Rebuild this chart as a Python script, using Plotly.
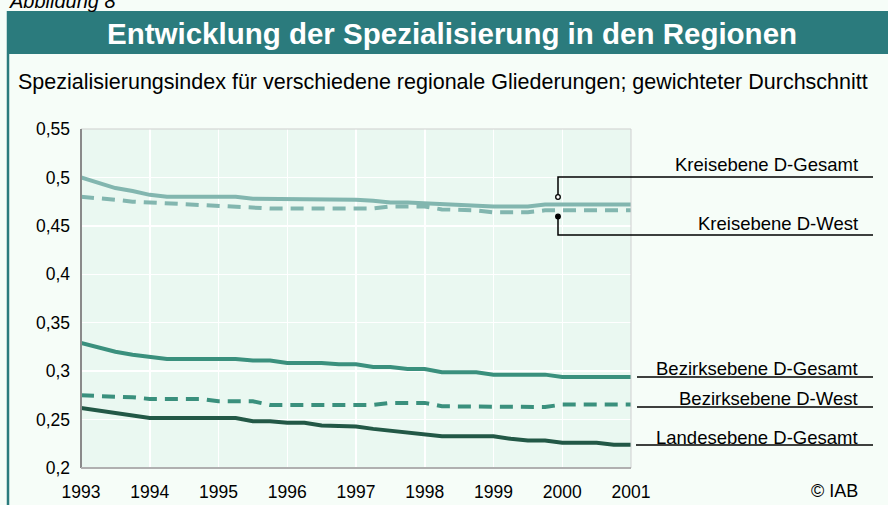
import plotly.graph_objects as go

# ---------------- data ----------------
years = [1993.00, 1993.25, 1993.50, 1993.75, 1994.00, 1994.25, 1994.50, 1994.75,
         1995.00, 1995.25, 1995.50, 1995.75, 1996.00, 1996.25, 1996.50, 1996.75,
         1997.00, 1997.25, 1997.50, 1997.75, 1998.00, 1998.25, 1998.50, 1998.75,
         1999.00, 1999.25, 1999.50, 1999.75, 2000.00, 2000.25, 2000.50, 2000.75,
         2001.00]

kreis_gesamt = [0.500, 0.495, 0.489, 0.486, 0.482, 0.480, 0.480, 0.480,
                0.480, 0.480, 0.478, 0.478, 0.478, 0.478, 0.477, 0.477,
                0.477, 0.476, 0.474, 0.474, 0.473, 0.472, 0.472, 0.471,
                0.470, 0.470, 0.470, 0.472, 0.472, 0.472, 0.472, 0.472,
                0.472]

kreis_west = [0.480, 0.479, 0.477, 0.475, 0.474, 0.474, 0.472, 0.471,
              0.470, 0.470, 0.468, 0.468, 0.468, 0.468, 0.468, 0.468,
              0.468, 0.468, 0.470, 0.470, 0.470, 0.467, 0.467, 0.466,
              0.464, 0.464, 0.464, 0.466, 0.466, 0.466, 0.466, 0.466,
              0.466]

bezirk_gesamt = [0.329, 0.3245, 0.320, 0.317, 0.3146, 0.3126, 0.3126, 0.3126,
                 0.3126, 0.3126, 0.311, 0.311, 0.3085, 0.3085, 0.3085, 0.307,
                 0.307, 0.3043, 0.3043, 0.3023, 0.3023, 0.2988, 0.2988, 0.2988,
                 0.2964, 0.2964, 0.2964, 0.2964, 0.294, 0.294, 0.294, 0.294,
                 0.294]

bezirk_west = [0.275, 0.2745, 0.2738, 0.273, 0.2713, 0.2713, 0.2713, 0.2713,
               0.2689, 0.2689, 0.2689, 0.2651, 0.2651, 0.2651, 0.2651, 0.2651,
               0.2651, 0.2651, 0.2672, 0.2672, 0.2672, 0.2637, 0.2637, 0.2637,
               0.263, 0.263, 0.263, 0.263, 0.2655, 0.2655, 0.2655, 0.2655,
               0.2655]

landes_gesamt = [0.262, 0.2596, 0.257, 0.255, 0.2517, 0.2517, 0.2517, 0.2517,
                 0.2517, 0.2517, 0.2483, 0.2483, 0.2466, 0.2466, 0.2438, 0.2438,
                 0.2428, 0.2404, 0.2386, 0.237, 0.2345, 0.2328, 0.2328, 0.2328,
                 0.2328, 0.2301, 0.2284, 0.2284, 0.226, 0.226, 0.226, 0.224,
                 0.224]

x_tickvals = [1993, 1994, 1995, 1996, 1997, 1998, 1999, 2000, 2001]
x_ticktext = ["1993", "1994", "1995", "1996", "1997", "1998", "1999", "2000", "2001"]
y_tickvals = [0.2, 0.25, 0.3, 0.35, 0.4, 0.45, 0.5, 0.55]
y_ticktext = ["0,2", "0,25", "0,3", "0,35", "0,4", "0,45", "0,5", "0,55"]

series_names = ["Kreisebene D-Gesamt", "Kreisebene D-West", "Bezirksebene D-Gesamt",
                "Bezirksebene D-West", "Landesebene D-Gesamt"]

title_text = "Entwicklung der Spezialisierung in den Regionen"
subtitle_text = "Spezialisierungsindex für verschiedene regionale Gliederungen; gewichteter Durchschnitt"

# ---------------- style ----------------
FONT = "Liberation Sans, Arial, sans-serif"
C_LIGHT = "#82b6af"
C_MID = "#3a907d"
C_DARK = "#225846"
TEAL = "#2b7b7d"
BG = "#f6fdf8"
PLOT_BG = "#eaf8f1"

W, H = 888, 505
L, R, T, B = 81, 631, 129, 468


def px(x):
    return (x - L) / (R - L)


def py(y):
    return (B - y) / (B - T)


fig = go.Figure()

styles = [
    (kreis_gesamt, C_LIGHT, "solid"),
    (kreis_west, C_LIGHT, "13px,8px"),
    (bezirk_gesamt, C_MID, "solid"),
    (bezirk_west, C_MID, "13px,8px"),
    (landes_gesamt, C_DARK, "solid"),
]
for name, (vals, col, dash) in zip(series_names, styles):
    fig.add_trace(go.Scatter(x=years, y=vals, mode="lines", name=name,
                             line=dict(color=col, width=4, dash=dash),
                             hoverinfo="skip"))

shapes = []
# title bar
shapes.append(dict(type="rect", xref="paper", yref="paper", x0=px(7), x1=px(889),
                   y0=py(54), y1=py(11), fillcolor=TEAL, line=dict(width=0), layer="below"))
# left border
shapes.append(dict(type="line", xref="paper", yref="paper", x0=px(8), x1=px(8),
                   y0=py(11), y1=py(506), line=dict(color=TEAL, width=2.5)))
# plot frame: top/right light gray, left/bottom darker gray
shapes.append(dict(type="line", xref="paper", yref="paper", x0=0, x1=1, y0=1, y1=1,
                   line=dict(color="#cfcfcf", width=1)))
shapes.append(dict(type="line", xref="paper", yref="paper", x0=1, x1=1, y0=0, y1=1,
                   line=dict(color="#cfcfcf", width=1)))
shapes.append(dict(type="line", xref="paper", yref="paper", x0=0, x1=0, y0=0, y1=1,
                   line=dict(color="#8a8a8a", width=2)))
shapes.append(dict(type="line", xref="paper", yref="paper", x0=0, x1=1, y0=0, y1=0,
                   line=dict(color="#b0b0b0", width=2)))


def path(points):
    return "M " + " L ".join(f"{px(a):.5f},{py(b):.5f}" for a, b in points)


# leader lines
shapes.append(dict(type="path", xref="paper", yref="paper",
                   path=path([(558, 195), (558, 177), (873, 177)]),
                   line=dict(color="black", width=1.5)))
shapes.append(dict(type="path", xref="paper", yref="paper",
                   path=path([(558, 218), (558, 235), (873, 235)]),
                   line=dict(color="black", width=1.5)))
for yy, x0 in [(377, 637), (407, 637), (445, 636)]:
    shapes.append(dict(type="line", xref="paper", yref="paper", x0=px(x0), x1=px(873),
                       y0=py(yy), y1=py(yy), line=dict(color="black", width=1.5)))
# small circles
r = 2.3
shapes.append(dict(type="circle", xref="paper", yref="paper",
                   x0=px(558 - r), x1=px(558 + r), y0=py(197 + r), y1=py(197 - r),
                   fillcolor="white", line=dict(color="black", width=1.3)))
shapes.append(dict(type="circle", xref="paper", yref="paper",
                   x0=px(558 - r), x1=px(558 + r), y0=py(216.5 + r), y1=py(216.5 - r),
                   fillcolor="black", line=dict(color="black", width=1.3)))

annotations = []
annotations.append(dict(text="<i>Abbildung 8</i>", xref="paper", yref="paper", x=px(7), y=py(14),
                         xanchor="left", yanchor="bottom", showarrow=False,
                         font=dict(family=FONT, size=20, color="black")))
annotations.append(dict(text="<b>" + title_text + "</b>", xref="paper", yref="paper",
                         x=px(452), y=py(33), xanchor="center", yanchor="middle",
                         showarrow=False, font=dict(family=FONT, size=29.5, color="white")))
annotations.append(dict(text=subtitle_text, xref="paper", yref="paper",
                         x=px(16), y=py(82), xanchor="left", yanchor="middle",
                         showarrow=False, font=dict(family=FONT, size=21.5, color="black")))
label_y = [164, 223, 368, 398, 437]
for name, yy in zip(series_names, label_y):
    annotations.append(dict(text=name, xref="paper", yref="paper", x=px(860), y=py(yy),
                             xanchor="right", yanchor="middle", showarrow=False,
                             font=dict(family=FONT, size=18.5, color="black")))
annotations.append(dict(text="© IAB", xref="paper", yref="paper", x=px(860), y=py(491),
                         xanchor="right", yanchor="middle", showarrow=False,
                         font=dict(family=FONT, size=18, color="black")))

fig.update_layout(
    width=W, height=H,
    margin=dict(l=L, r=W - R, t=T, b=H - B, pad=0),
    paper_bgcolor=BG, plot_bgcolor=PLOT_BG,
    showlegend=False,
    font=dict(family=FONT, size=17, color="black"),
    shapes=shapes, annotations=annotations,
    xaxis=dict(range=[1993, 2001], tickvals=x_tickvals, ticktext=x_ticktext,
               showgrid=True, gridcolor="white", gridwidth=1.5, zeroline=False,
               showline=False, ticks="", ticklabelstandoff=11, automargin=False,
               tickfont=dict(family=FONT, size=17.5, color="black")),
    yaxis=dict(range=[0.2, 0.55], tickvals=y_tickvals, ticktext=y_ticktext,
               showgrid=True, gridcolor="white", gridwidth=1.5, zeroline=False,
               showline=False, ticks="", ticklabelstandoff=10, automargin=False,
               tickfont=dict(family=FONT, size=17.5, color="black")),
)

fig.write_html("out.html",
               config={"displayModeBar": False, "staticPlot": True},
               post_script="document.body.style.margin='0';document.body.style.overflow='hidden';")
